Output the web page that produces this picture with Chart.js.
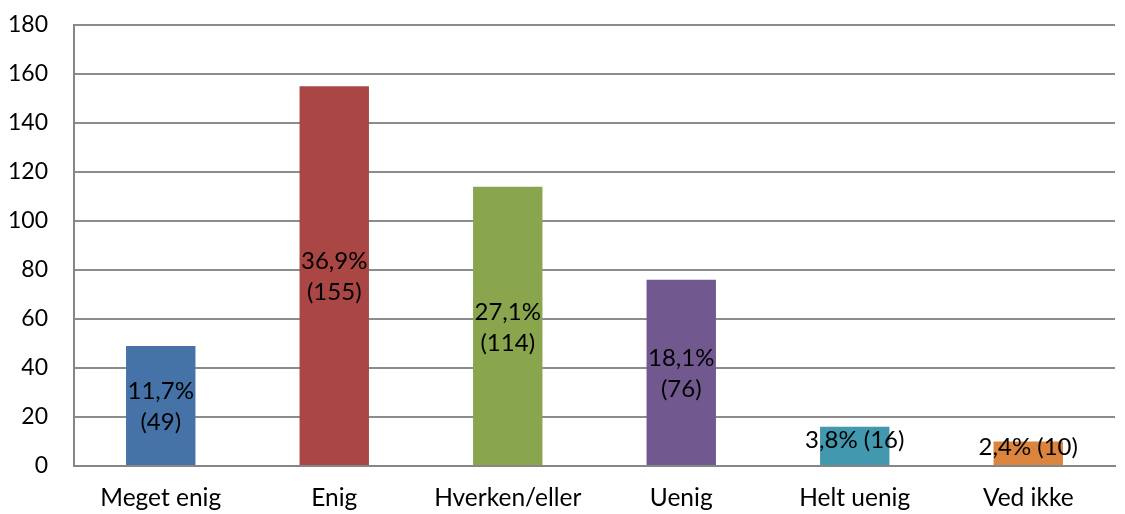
<!DOCTYPE html>
<html>
<head>
<meta charset="utf-8">
<script src="https://cdn.jsdelivr.net/npm/chart.js@4"></script>
<style>
  html, body { margin: 0; padding: 0; background: #fff; }
  #wrap { width: 1125px; height: 514px; }
</style>
</head>
<body>
<div id="wrap"><canvas id="chart"></canvas></div>
<script>
const categories = ['Meget enig', 'Enig', 'Hverken/eller', 'Uenig', 'Helt uenig', 'Ved ikke']
const counts = [49, 155, 114, 76, 16, 10]
const percentLabels = ['11,7%', '36,9%', '27,1%', '18,1%', '3,8%', '2,4%']
const barColors = ['#4572A7', '#AA4643', '#89A54E', '#71588F', '#4198AF', '#DB843D']
const yTicks = [0, 20, 40, 60, 80, 100, 120, 140, 160, 180]

const fontFamily = 'Lato, "Open Sans", sans-serif'

// draws "xx,x% (n)" inside each bar, wrapped on two lines when it fits
const barLabels = {
  id: 'barLabels',
  afterDatasetsDraw (chart) {
    const ctx = chart.ctx
    const meta = chart.getDatasetMeta(0)
    ctx.save()
    ctx.font = '24px ' + fontFamily
    ctx.fillStyle = '#000'
    ctx.textAlign = 'center'
    ctx.textBaseline = 'middle'
    meta.data.forEach((bar, i) => {
      const cy = (bar.y + bar.base) / 2
      const h = bar.base - bar.y
      if (h > 60) {
        ctx.fillText(percentLabels[i], bar.x, cy - 14)
        ctx.fillText('(' + counts[i] + ')', bar.x, cy + 17)
      } else {
        ctx.fillText(percentLabels[i] + ' (' + counts[i] + ')', bar.x, cy - 6)
      }
    })
    ctx.restore()
  }
}

const chart = new Chart(document.getElementById('chart').getContext('2d'), {
  type: 'bar',
  data: {
    labels: categories,
    datasets: [{
      data: counts,
      backgroundColor: barColors,
      barPercentage: 0.4,
      categoryPercentage: 1
    }]
  },
  options: {
    responsive: true,
    maintainAspectRatio: false,
    animation: false,
    layout: { padding: { top: 25, right: 10, left: 0, bottom: 0 } },
    plugins: {
      legend: { display: false },
      tooltip: { enabled: false }
    },
    scales: {
      x: {
        grid: { display: false, drawTicks: false },
        border: { color: '#868686', width: 2 },
        ticks: { color: '#000', font: { family: fontFamily, size: 24.5 }, padding: 17 },
        afterFit: (axis) => { axis.height = 48 }
      },
      y: {
        min: 0,
        max: 180,
        afterBuildTicks: (axis) => { axis.ticks = yTicks.map((v) => ({ value: v })) },
        grid: { color: '#8c8c8c', lineWidth: 2, drawTicks: false },
        border: { color: '#868686', width: 2 },
        ticks: { color: '#000', font: { family: fontFamily, size: 23 }, padding: 26 },
        afterFit: (axis) => {
          axis.width = 74
          axis.paddingTop = 0
          axis.paddingBottom = 0
        }
      }
    }
  },
  plugins: [barLabels]
})
</script>
</body>
</html>
